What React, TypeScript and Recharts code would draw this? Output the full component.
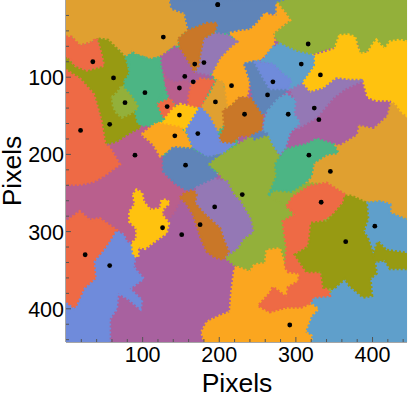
import { ScatterChart, Scatter, XAxis, YAxis, CartesianGrid } from 'recharts'

type Vertex = [number, number]

// region outlines, in image pixels
const underTopLeft: Vertex[] = [[0,0],[225,0],[225,225],[0,225]]
const underTopRight: Vertex[] = [[225,0],[445,0],[445,225],[225,225]]
const underBottomLeft: Vertex[] = [[0,225],[225,225],[225,445],[0,445]]
const underBottomRight: Vertex[] = [[225,225],[445,225],[445,445],[225,445]]
const goldTop: Vertex[] = [[0,0],[136,0],[138,11],[146,12],[150,14],[155,17],[156,26],[158,30],[161,39],[155,42],[152,45],[147,50],[146,56],[143,60],[135,63],[130,69],[123,74],[116,74],[110,77],[103,73],[96,72],[90,68],[86,65],[82,70],[75,72],[70,64],[62,58],[55,52],[48,49],[42,50],[36,52],[31,56],[24,57],[18,59],[12,54],[8,48],[0,48]]
const steelTop: Vertex[] = [[136,0],[290,0],[276,5],[275,19],[260,17],[250,30],[240,39],[225,40],[214,45],[212,41],[197,46],[195,38],[183,30],[172,34],[165,36],[160,39],[155,17],[138,11]]
const greenTop: Vertex[] = [[288,0],[445,0],[445,54],[432,53],[423,54],[420,60],[416,63],[410,58],[405,52],[401,60],[394,65],[388,69],[384,70],[382,58],[377,48],[366,45],[357,46],[354,54],[353,61],[342,63],[331,67],[318,72],[309,70],[301,67],[290,62],[279,57],[274,50],[270,43],[280,36],[292,26],[286,17],[275,4]]
const yellowRight: Vertex[] = [[357,46],[368,45],[377,48],[380,60],[384,70],[394,68],[400,58],[405,52],[410,58],[416,63],[423,54],[435,52],[445,54],[445,150],[438,145],[431,135],[423,130],[405,130],[394,126],[390,112],[388,104],[370,104],[353,102],[336,115],[318,120],[307,107],[316,95],[323,85],[323,72],[340,67],[351,63]]
const amberTop: Vertex[] = [[214,43],[228,40],[240,39],[250,30],[260,17],[268,20],[275,20],[275,4],[286,17],[292,26],[280,35],[270,43],[272,52],[270,61],[262,70],[253,78],[233,83],[240,104],[236,126],[227,126],[214,139],[205,135],[207,109],[198,104],[190,96],[201,74],[214,61],[223,52],[216,46]]
const goldCentre: Vertex[] = [[197,104],[205,107],[210,139],[207,160],[205,163],[196,170],[186,150],[175,139],[188,122]]
const brownRight: Vertex[] = [[214,139],[227,126],[244,128],[257,148],[255,170],[242,176],[227,176],[214,188],[197,185],[207,165],[205,143]]
const brownTop: Vertex[] = [[147,50],[160,39],[166,37],[184,30],[197,30],[194,41],[179,50],[175,70],[173,85],[166,94],[160,83],[149,65]]
const lavenderTop: Vertex[] = [[179,50],[194,43],[212,46],[223,54],[214,61],[201,74],[190,94],[184,98],[166,94],[173,85],[175,70]]
const purpleUpper: Vertex[] = [[123,74],[135,66],[142,61],[149,65],[160,83],[166,94],[184,98],[192,100],[175,102],[166,109],[157,104],[142,107],[131,102],[127,94],[123,83]]
const mauveUpper: Vertex[] = [[127,94],[131,102],[142,107],[157,104],[164,109],[160,139],[145,137],[136,128],[127,104]]
const redCentre: Vertex[] = [[166,109],[175,102],[194,104],[184,122],[175,139],[160,139],[160,126],[164,109]]
const redSmall: Vertex[] = [[118,135],[136,128],[142,137],[142,146],[127,154],[123,148]]
const yellowSmall: Vertex[] = [[123,161],[140,141],[149,135],[173,141],[164,159],[157,168],[136,163]]
const amberCentre: Vertex[] = [[99,174],[118,159],[127,161],[149,165],[157,174],[164,191],[140,191],[123,202],[114,187]]
const blueCentre: Vertex[] = [[157,168],[175,139],[186,150],[197,170],[201,185],[218,187],[205,200],[184,204],[166,191]]
const steelBottom: Vertex[] = [[127,204],[140,191],[164,193],[184,204],[197,202],[184,213],[197,226],[194,232],[184,239],[170,243],[157,246],[142,237],[127,222]]
const greenCentre: Vertex[] = [[184,213],[197,202],[205,200],[214,194],[240,178],[264,174],[270,187],[279,204],[273,213],[275,228],[277,228],[264,254],[288,267],[299,278],[286,289],[290,300],[283,315],[279,322],[262,324],[260,341],[246,343],[240,352],[223,346],[207,333],[214,320],[227,261],[198,222]]
const tealCentre: Vertex[] = [[273,213],[279,204],[286,194],[300,190],[314,187],[327,180],[340,184],[349,187],[355,198],[340,200],[323,211],[320,228],[314,235],[294,248],[270,246],[264,254],[275,228]]
const goldRight: Vertex[] = [[445,150],[431,135],[423,130],[418,150],[401,165],[381,161],[379,174],[357,187],[349,187],[355,198],[340,200],[323,211],[320,228],[314,235],[331,237],[349,243],[364,252],[392,261],[414,261],[423,275],[445,283]]
const purpleRight: Vertex[] = [[286,185],[301,167],[327,152],[331,139],[349,126],[364,115],[388,104],[394,126],[405,130],[423,130],[418,150],[401,165],[381,161],[379,174],[357,187],[327,180],[314,187],[286,193]]
const lavenderRight: Vertex[] = [[292,115],[307,107],[318,120],[336,115],[353,102],[370,104],[388,104],[364,115],[349,126],[327,152],[301,167],[294,148],[299,130]]
const skyTop: Vertex[] = [[257,78],[270,61],[279,57],[301,67],[323,72],[323,85],[307,107],[292,115],[283,96],[270,83],[253,80],[233,83]]
const blueRight: Vertex[] = [[246,80],[270,83],[283,96],[294,104],[290,115],[266,115],[257,100]]
const steelRight: Vertex[] = [[233,83],[246,80],[257,100],[266,115],[290,115],[277,128],[264,143],[257,148],[244,128],[240,104]]
const skyMiddle: Vertex[] = [[264,143],[277,128],[288,122],[299,130],[297,148],[305,159],[292,172],[286,191],[279,200],[270,187],[264,174],[257,172],[260,152]]
const steelSmall: Vertex[] = [[242,176],[255,170],[264,174],[246,180]]
const oliveLeft: Vertex[] = [[0,72],[0,93],[18,102],[36,122],[40,135],[46,157],[51,187],[66,183],[83,172],[97,165],[92,157],[90,143],[75,122],[77,104],[83,96],[75,72],[55,52],[40,50],[46,70],[49,85],[27,91],[12,85],[3,74]]
const oliveSmall: Vertex[] = [[60,126],[67,120],[73,111],[78,117],[83,122],[90,132],[94,139],[86,146],[73,152],[66,146],[62,139]]
const tealLeft: Vertex[] = [[77,104],[83,96],[81,72],[94,72],[110,77],[123,74],[123,83],[127,104],[127,117],[118,135],[123,148],[127,154],[105,163],[94,159],[90,143],[75,122]]
const redTop: Vertex[] = [[0,48],[7,48],[18,59],[31,56],[40,50],[46,70],[49,85],[27,91],[12,85],[3,74],[0,74]]
const redLeft: Vertex[] = [[0,91],[18,102],[36,122],[40,135],[46,157],[51,187],[57,191],[70,213],[49,228],[36,235],[18,239],[0,239]]
const purpleBottom: Vertex[] = [[146,252],[157,246],[170,244],[175,250],[240,300],[240,350],[214,348],[227,348],[218,370],[214,393],[214,404],[201,409],[184,417],[177,430],[181,445],[57,445],[57,413],[66,400],[68,380],[70,340],[80,305],[120,290]]
const mauveLeft: Vertex[] = [[51,187],[66,183],[83,172],[97,165],[105,163],[114,167],[99,174],[114,187],[123,202],[127,204],[127,222],[142,237],[157,246],[152,255],[146,265],[141,275],[120,300],[90,315],[79,311],[66,298],[44,283],[31,285],[18,274],[0,287],[0,239],[18,239],[36,235],[49,228],[70,213],[57,191]]
const redLower: Vertex[] = [[0,287],[18,274],[31,285],[44,283],[66,298],[57,315],[49,326],[38,339],[40,361],[25,374],[14,398],[10,400],[1,393],[0,393]]
const blueLeft: Vertex[] = [[0,393],[10,400],[14,398],[25,374],[40,361],[38,339],[49,326],[57,315],[66,300],[75,304],[79,313],[86,317],[90,335],[88,346],[101,361],[83,374],[99,389],[97,400],[81,387],[68,380],[66,400],[57,413],[57,445],[0,445]]
const yellowCentre: Vertex[] = [[88,252],[92,246],[99,250],[101,261],[110,272],[123,270],[125,259],[131,259],[135,263],[127,270],[125,278],[134,289],[131,302],[118,311],[103,322],[94,320],[94,333],[88,330],[86,315],[92,309],[92,296],[83,287],[83,274],[90,265]]
const lavenderBottom: Vertex[] = [[170,243],[194,232],[210,235],[218,252],[227,261],[240,283],[244,300],[231,309],[223,322],[214,328],[207,333],[210,328],[196,300],[180,290],[165,270]]
const brownStripe: Vertex[] = [[149,256],[155,250],[166,247],[170,252],[168,263],[179,276],[201,296],[205,309],[212,326],[205,336],[194,333],[184,326],[177,311],[166,278],[157,263]]
const amberBottom: Vertex[] = [[223,346],[240,352],[246,343],[260,341],[262,324],[279,322],[286,346],[290,352],[305,354],[303,365],[290,372],[288,385],[270,372],[266,380],[251,396],[266,404],[288,398],[307,398],[318,393],[329,400],[320,409],[312,430],[320,435],[320,445],[181,445],[177,430],[184,417],[201,409],[214,404],[216,378],[220,348]]
const skyRight: Vertex[] = [[392,263],[410,261],[423,265],[423,276],[445,285],[445,445],[320,445],[320,435],[312,430],[320,409],[329,400],[318,393],[320,385],[344,383],[349,374],[364,361],[396,361],[403,339],[401,330],[388,300]]
const redRight: Vertex[] = [[288,267],[296,255],[318,241],[340,237],[364,252],[368,257],[362,263],[349,278],[327,289],[318,309],[314,320],[301,326],[305,343],[327,350],[336,361],[342,374],[344,383],[323,385],[318,393],[307,398],[288,398],[266,404],[251,396],[266,380],[270,372],[288,385],[290,372],[303,365],[305,354],[290,352],[286,346],[288,322],[283,287],[299,278]]
const oliveRight: Vertex[] = [[320,289],[340,287],[349,278],[362,263],[364,254],[373,254],[392,263],[394,283],[388,300],[394,309],[401,330],[407,313],[418,324],[445,328],[445,348],[423,348],[416,337],[403,339],[405,354],[397,361],[399,383],[388,385],[370,370],[364,361],[349,374],[336,372],[333,352],[314,352],[299,330],[316,320],[318,309]]

const centres: Vertex[] = [[198,6],[127,48],[35,80],[62,101],[168,83],[180,81],[155,99],[166,106],[148,114],[216,111],[103,120],[77,133],[195,132],[132,138],[148,149],[57,161],[19,169],[172,173],[142,176],[90,201],[156,214],[316,57],[307,83],[332,97],[270,106],[263,123],[324,140],[290,148],[233,148],[330,155],[317,201],[345,222],[194,268],[175,291],[126,295],[151,304],[25,330],[57,344],[230,252],[333,262],[403,293],[365,313],[292,421]]

const gold = '#e0a030'
const steel = '#5f84b8'
const red = '#ee6a45'
const olive = '#979a12'
const teal = '#4cb584'
const leaf = '#93b03a'
const purple = '#a8619f'
const mauve = '#b95f8d'
const yellow = '#ffc20f'
const amber = '#fba61f'
const brown = '#c97728'
const lavender = '#9478b5'
const blue = '#6f8bdb'
const sky = '#5f9fcb'

const regions: [Vertex[], string][] = [
  [underTopLeft, teal], [underTopRight, purple], [underBottomLeft, purple], [underBottomRight, leaf],
  [purpleBottom, purple], [mauveLeft, mauve], [goldTop, gold], [steelTop, steel], [greenTop, leaf], [goldRight, gold],
  [purpleRight, purple], [yellowRight, yellow], [amberTop, amber], [goldCentre, gold], [brownRight, brown],
  [lavenderTop, lavender], [brownTop, brown], [purpleUpper, purple], [mauveUpper, mauve], [redCentre, red],
  [redSmall, red], [yellowSmall, yellow], [amberCentre, amber], [blueCentre, blue], [greenCentre, leaf],
  [steelBottom, steel], [tealCentre, teal], [lavenderRight, lavender], [skyTop, sky], [steelRight, steel],
  [blueRight, blue], [skyMiddle, sky], [steelSmall, steel], [oliveLeft, olive], [tealLeft, teal], [oliveSmall, leaf],
  [redTop, red], [redLeft, red], [redLower, red], [blueLeft, blue], [yellowCentre, yellow], [lavenderBottom, lavender],
  [brownStripe, brown], [skyRight, sky], [amberBottom, amber], [redRight, red], [oliveRight, olive],
]

const minorTicks = [20, 40, 60, 80, 100, 120, 140, 160, 180, 200, 220, 240, 260, 280, 300, 320, 340, 360, 380, 400, 420, 440]
const labelledTicks = [100, 200, 300, 400]
const frame = '#555555'
const axisFont = 'Liberation Sans'

const toRows = (pts: Vertex[]) => [...pts, pts[0]].map(([x, y]) => ({ x, y }))

function BottomTick({ x, y, payload }: any) {
  const major = labelledTicks.includes(payload.value)
  return (
    <g>
      <line x1={x} x2={x} y1={y} y2={y - (major ? 5 : 3)} stroke={frame} />
      {major && <text x={x} y={y + 20} textAnchor="middle" fontSize={21.5} fontFamily={axisFont} fill="#000">{payload.value}</text>}
    </g>
  )
}

function LeftTick({ x, y, payload }: any) {
  const major = labelledTicks.includes(payload.value)
  return (
    <g>
      <line x1={x} x2={x + (major ? 5 : 3)} y1={y} y2={y} stroke={frame} />
      {major && <text x={x - 2} y={y + 8} textAnchor="end" fontSize={21.5} fontFamily={axisFont} fill="#000">{payload.value}</text>}
    </g>
  )
}

function TopTick({ x, y, payload }: any) {
  return <line x1={x} x2={x} y1={y} y2={y + (labelledTicks.includes(payload.value) ? 5 : 3)} stroke={frame} />
}

function RightTick({ x, y, payload }: any) {
  return <line x1={x} x2={x - (labelledTicks.includes(payload.value) ? 5 : 3)} y1={y} y2={y} stroke={frame} />
}

const BottomTitle = () => <text x={237} y={392} textAnchor="middle" fontSize={26.5} fontFamily={axisFont} fill="#000">Pixels</text>
const LeftTitle = () => <text transform="translate(21,171) rotate(-90)" textAnchor="middle" fontSize={26.5} fontFamily={axisFont} fill="#000">Pixels</text>

export default function App() {
  return (
    <div style={{ position: 'absolute', left: 0, top: 0, width: 409, height: 395 }}>
      <ScatterChart width={409} height={395} margin={{ top: 0, right: 2, bottom: 0, left: 0 }}>
        <XAxis
          type="number"
          dataKey="x"
          domain={[0, 445]}
          ticks={minorTicks}
          height={53}
          interval={0}
          tickSize={0}
          tickMargin={0}
          tickLine={false}
          tick={BottomTick}
          axisLine={{ stroke: frame }}
          allowDataOverflow
          label={{ content: BottomTitle }}
        />
        <YAxis
          type="number"
          dataKey="y"
          domain={[0, 443]}
          reversed
          ticks={minorTicks}
          width={66}
          interval={0}
          tickSize={0}
          tickMargin={0}
          tickLine={false}
          tick={LeftTick}
          axisLine={{ stroke: frame }}
          allowDataOverflow
          label={{ content: LeftTitle }}
        />
        <XAxis xAxisId="top" type="number" orientation="top" domain={[0, 445]} ticks={minorTicks} height={0} interval={0} tickSize={0} tickMargin={0} tickLine={false} tick={TopTick} axisLine={{ stroke: frame }} />
        <YAxis yAxisId="right" type="number" orientation="right" domain={[0, 443]} reversed ticks={minorTicks} width={0} interval={0} tickSize={0} tickMargin={0} tickLine={false} tick={RightTick} axisLine={{ stroke: frame }} />
        {regions.map(([pts, color], i) => (
          <Scatter
            key={i}
            data={toRows(pts)}
            isAnimationActive={false}
            shape={() => null}
            line={{ fill: color, stroke: color, strokeWidth: 3, strokeDasharray: '2 2' }}
          />
        ))}
        <CartesianGrid stroke="#000000" strokeOpacity={0.06} />
        <Scatter
          data={toRows(centres)}
          isAnimationActive={false}
          fill="#000000"
          shape={(p: any) => <circle cx={p.cx} cy={p.cy} r={2.4} fill="#000000" />}
        />
      </ScatterChart>
    </div>
  )
}
